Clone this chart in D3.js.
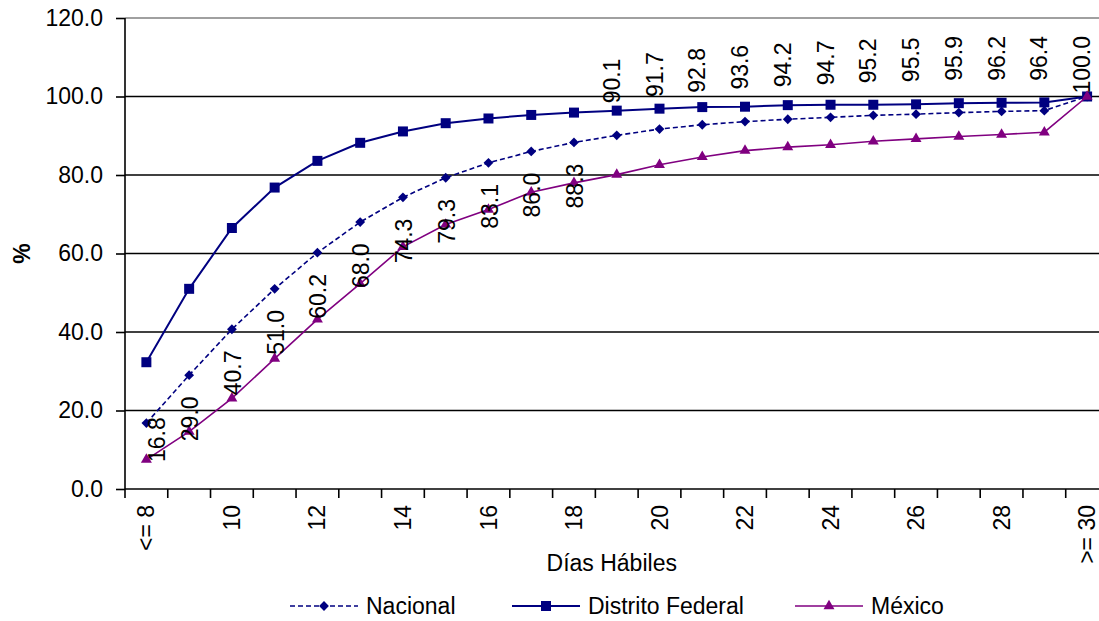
<!DOCTYPE html>
<html><head><meta charset="utf-8">
<script src="https://cdn.jsdelivr.net/npm/d3@7"></script>
<style>body{margin:0;background:#fff}svg{display:block}text{font-family:"Liberation Sans",Arial,sans-serif}</style>
</head><body><svg id="c" width="1099" height="621"></svg>
<script>
const categories = ["<= 8","9","10","11","12","13","14","15","16","17","18","19","20","21","22","23","24","25","26","27","28","29",">= 30"];
const nacional = [16.8,29.0,40.7,51.0,60.2,68.0,74.3,79.3,83.1,86.0,88.3,90.1,91.7,92.8,93.6,94.2,94.7,95.2,95.5,95.9,96.2,96.4,100.0];
const distritoFederal = [32.3,51.0,66.5,76.8,83.6,88.2,91.1,93.2,94.4,95.3,95.9,96.4,96.9,97.3,97.4,97.8,97.9,97.9,98.0,98.3,98.4,98.5,100.0];
const mexico = [7.5,14.6,23.1,33.2,43.2,52.3,61.7,67.4,71.2,75.6,78.0,80.1,82.6,84.6,86.2,87.1,87.7,88.6,89.2,89.8,90.3,90.9,100.0];
const yTicks = [0,20,40,60,80,100,120];
const xTickLabels = ["<= 8","10","12","14","16","18","20","22","24","26","28",">= 30"];
const seriesNames = ["Nacional","Distrito Federal","México"];

const svg = d3.select("#c");
const L = 125, T = 18, B = 489, bw = 42.76, R = L + bw * categories.length;
const FS = 23;
const x = d3.scaleBand().domain(categories).range([L, R]).padding(0);
const xc = c => x(c) + x.bandwidth() / 2;
const y = d3.scaleLinear().domain([0, 120]).range([B, T]);

// gridlines
svg.append("g").selectAll("line").data(yTicks.filter(d => d > 0)).join("line")
  .attr("x1", L).attr("x2", 1099).attr("y1", d => y(d)).attr("y2", d => y(d))
  .attr("stroke", d => d === 120 ? "#808080" : "#000").attr("stroke-width", 1.6);

// y axis
const ya = svg.append("g").attr("transform", `translate(${L},0)`)
  .call(d3.axisLeft(y).tickValues(yTicks).tickFormat(d3.format(".1f")).tickSize(9).tickPadding(13));
ya.select(".domain").attr("stroke", "#000").attr("stroke-width", 1.6).attr("d", `M0,${T}V${B}`);
ya.selectAll(".tick line").attr("stroke", "#000").attr("stroke-width", 1.6);
ya.selectAll(".tick text").attr("font-size", FS).attr("fill", "#000").attr("font-family", "Liberation Sans, Arial, sans-serif");

// x axis line and tick marks at band boundaries
svg.append("line").attr("x1", L).attr("x2", 1099).attr("y1", B).attr("y2", B).attr("stroke", "#000").attr("stroke-width", 1.6);
svg.append("g").selectAll("line").data(categories.map(c => x(c)).concat([R])).join("line")
  .attr("x1", d => d).attr("x2", d => d).attr("y1", B).attr("y2", B + 9).attr("stroke", "#000").attr("stroke-width", 1.6);
svg.append("g").selectAll("text").data(xTickLabels).join("text")
  .attr("transform", d => `translate(${xc(d)},${B + 16}) rotate(-90)`)
  .attr("text-anchor", "end").attr("dy", "0.35em").attr("font-size", FS).text(d => d);

// axis titles
svg.append("text").attr("x", (L + R) / 2 - 5).attr("y", 571).attr("text-anchor", "middle").attr("font-size", FS)
  .text("Días Hábiles");
svg.append("text").attr("transform", `translate(22,${(T + B) / 2}) rotate(-90)`).attr("text-anchor", "middle").attr("dy", "0.35em")
  .attr("font-size", FS).attr("font-weight", "bold").text("%");

const navy = "#000080", purple = "#800080";
const line = d3.line().x((d, i) => xc(categories[i])).y(d => y(d));
const symSq = d3.symbol().type(d3.symbolSquare).size(100);
const symDi = d3.symbol().type(d3.symbolSquare).size(48);
const symTr = d3.symbol().type(d3.symbolTriangle).size(52);

function drawSeries(vals, color, dash, width, sym, rot) {
  svg.append("path").datum(vals).attr("d", line).attr("fill", "none").attr("stroke", color)
    .attr("stroke-width", width).attr("stroke-dasharray", dash);
  svg.append("g").selectAll("path").data(vals).join("path")
    .attr("d", sym).attr("fill", color)
    .attr("transform", (d, i) => `translate(${xc(categories[i])},${y(d)}) rotate(${rot})`);
}
drawSeries(nacional, navy, "5,3", 1.6, symDi, 45);
drawSeries(distritoFederal, navy, null, 2, symSq, 0);
drawSeries(mexico, purple, null, 1.6, symTr, 0);

// data labels for Nacional
svg.append("g").selectAll("text").data(nacional).join("text")
  .attr("font-size", FS).attr("dy", "0.35em").text(d => d3.format(".1f")(d))
  .each(function(d, i) {
    const len = this.getComputedTextLength();
    const py = y(d), px = xc(categories[i]);
    let bx, by;
    if (d < 90) {
      by = py + 66; bx = px + 1;
      if (by > B - 27) { by = B - 27; bx = px + 11; }
    } else {
      by = Math.max(py - 32, T + len + 18); bx = px - 5;
    }
    d3.select(this).attr("transform", `translate(${bx},${by}) rotate(-90)`);
  });

// legend
const legend = [
  {name: seriesNames[0], color: navy, dash: "5,3", w: 1.6, sym: symDi, rot: 45, x0: 290},
  {name: seriesNames[1], color: navy, dash: null, w: 2, sym: symSq, rot: 0, x0: 512},
  {name: seriesNames[2], color: purple, dash: null, w: 1.6, sym: symTr, rot: 0, x0: 795}
];
const ly = 606;
const lg = svg.append("g").selectAll("g").data(legend).join("g");
lg.append("line").attr("x1", d => d.x0).attr("x2", d => d.x0 + 68).attr("y1", ly).attr("y2", ly)
  .attr("stroke", d => d.color).attr("stroke-width", d => d.w).attr("stroke-dasharray", d => d.dash);
lg.append("path").attr("d", d => d.sym()).attr("fill", d => d.color).attr("transform", d => `translate(${d.x0 + 34},${ly}) rotate(${d.rot})`);
lg.append("text").attr("x", d => d.x0 + 76).attr("y", ly).attr("dy", "0.35em").attr("font-size", FS).text(d => d.name);
</script></body></html>
